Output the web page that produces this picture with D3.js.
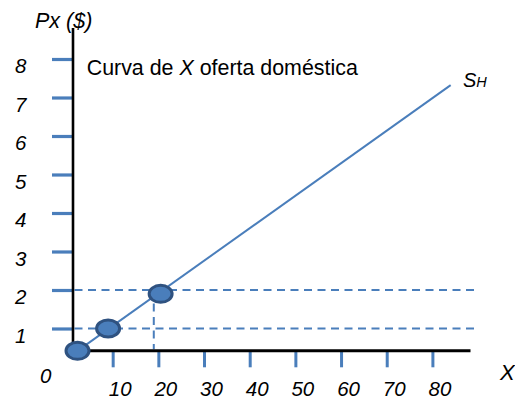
<!DOCTYPE html>
<html><head><meta charset="utf-8">
<script src="https://cdn.jsdelivr.net/npm/d3@7"></script>
<style>
html,body{margin:0;padding:0;background:#fff;}
svg{display:block;}
text{font-family:"Liberation Sans",Arial,Helvetica,sans-serif;fill:#000;}
</style>
</head><body><div id="chart"></div>
<script>
// ---- data ----
const yTickValues = [1, 2, 3, 4, 5, 6, 7, 8];
const xTickValues = [10, 20, 30, 40, 50, 60, 70, 80];
const supplyX = [2.3, 84];
const supplyY = [0.42, 7.32];
const pointX = [2.3, 9, 20.5];
const pointY = [0.42, 1, 1.9];
const refPrices = [1, 2];
const refPriceEnd = 90;
const refQuantities = [19];
const refQuantityTop = [2];
const titleParts = ["Curva de ", "X", " oferta doméstica"];
const yAxisTitle = "Px ($)";
const xAxisTitle = "X";
const originLabel = "0";
const seriesLabel = ["S", "H"];

// ---- layout ----
const W = 515, H = 401;
const axisLeftX = 73, axisBottomY = 350.8, axisTopY = 28, axisRightX = 470.5;
const blue = "#4a7ebb";

const svg = d3.select("#chart").append("svg").attr("width", W).attr("height", H);
svg.append("rect").attr("width", W).attr("height", H).attr("fill", "#fff");

const x = d3.scaleLinear().domain([0, 80]).range([67, 432.4]);
const y = d3.scaleLinear().domain([0, 8]).range([367, 59]);

// dashed reference lines
svg.selectAll("line.hdash").data(refPrices).join("line")
  .attr("class", "hdash")
  .attr("x1", axisLeftX + 1.5).attr("x2", x(refPriceEnd))
  .attr("y1", d => y(d)).attr("y2", d => y(d))
  .attr("stroke", blue).attr("stroke-width", 2).attr("stroke-dasharray", "8,5.5");
svg.selectAll("line.vdash").data(refQuantities).join("line")
  .attr("class", "vdash")
  .attr("x1", d => x(d)).attr("x2", d => x(d))
  .attr("y1", (d, i) => y(refQuantityTop[i])).attr("y2", axisBottomY - 1.5)
  .attr("stroke", blue).attr("stroke-width", 2).attr("stroke-dasharray", "8,5.5");

// Y axis ticks & labels
const yAxis = d3.axisLeft(y).tickValues(yTickValues).tickSize(20).tickPadding(25).tickFormat(d3.format("d"));
const gy = svg.append("g").attr("transform", `translate(${axisLeftX - 1},0)`).call(yAxis);
gy.select(".domain").remove();
gy.selectAll(".tick line").attr("stroke", blue).attr("stroke-width", 3.2);
gy.selectAll(".tick text").attr("font-size", 20.5).attr("font-style", "italic")
  .attr("font-family", "Liberation Sans, Arial, sans-serif").attr("fill", "#000")
  .attr("dy", "0.66em").attr("text-anchor", "start").attr("x", -57);

// X axis ticks & labels
const xAxis = d3.axisBottom(x).tickValues(xTickValues).tickSize(16.5).tickPadding(14.5).tickFormat(d3.format("d"));
const gx = svg.append("g").attr("transform", `translate(0,${axisBottomY})`).call(xAxis);
gx.select(".domain").remove();
gx.selectAll(".tick line").attr("stroke", blue).attr("stroke-width", 3);
gx.selectAll(".tick text").attr("font-size", 20.5).attr("font-style", "italic")
  .attr("font-family", "Liberation Sans, Arial, sans-serif").attr("fill", "#000")
  .attr("dx", 7);

// axis lines
svg.append("line").attr("x1", axisLeftX).attr("x2", axisLeftX)
  .attr("y1", axisTopY).attr("y2", axisBottomY + 1.5)
  .attr("stroke", "#000").attr("stroke-width", 2.6);
svg.append("line").attr("x1", axisLeftX - 1.3).attr("x2", axisRightX)
  .attr("y1", axisBottomY).attr("y2", axisBottomY)
  .attr("stroke", "#000").attr("stroke-width", 3);

// supply line
const lineData = supplyX.map((d, i) => ({x: d, y: supplyY[i]}));
svg.append("path").datum(lineData)
  .attr("d", d3.line().x(d => x(d.x)).y(d => y(d.y)))
  .attr("fill", "none").attr("stroke", blue).attr("stroke-width", 2);

// points
const pts = pointX.map((d, i) => ({x: d, y: pointY[i]}));
svg.selectAll("ellipse.pt").data(pts).join("ellipse")
  .attr("class", "pt")
  .attr("cx", d => x(d.x)).attr("cy", d => y(d.y))
  .attr("rx", 11.5).attr("ry", 8.5)
  .attr("fill", "#4a7ebb").attr("stroke", "#2f5280").attr("stroke-width", 3);

// texts
svg.append("text").attr("x", 35).attr("y", 28.3).attr("font-size", 21.5)
  .attr("font-style", "italic").text(yAxisTitle);

const t = svg.append("text").attr("x", 86.7).attr("y", 74.5).attr("font-size", 21.4);
titleParts.forEach((p, i) => {
  t.append("tspan").attr("font-style", i === 1 ? "italic" : "normal").text(p);
});

svg.append("text").attr("x", 40).attr("y", 383).attr("font-size", 20.5)
  .attr("font-style", "italic").text(originLabel);
svg.append("text").attr("x", 500).attr("y", 380).attr("font-size", 22)
  .attr("font-style", "italic").text(xAxisTitle);

const s = svg.append("text").attr("x", 463).attr("y", 87).attr("font-style", "italic");
s.append("tspan").attr("font-size", 20).text(seriesLabel[0]);
s.append("tspan").attr("font-size", 14.5).text(seriesLabel[1]);
</script>
</body></html>
